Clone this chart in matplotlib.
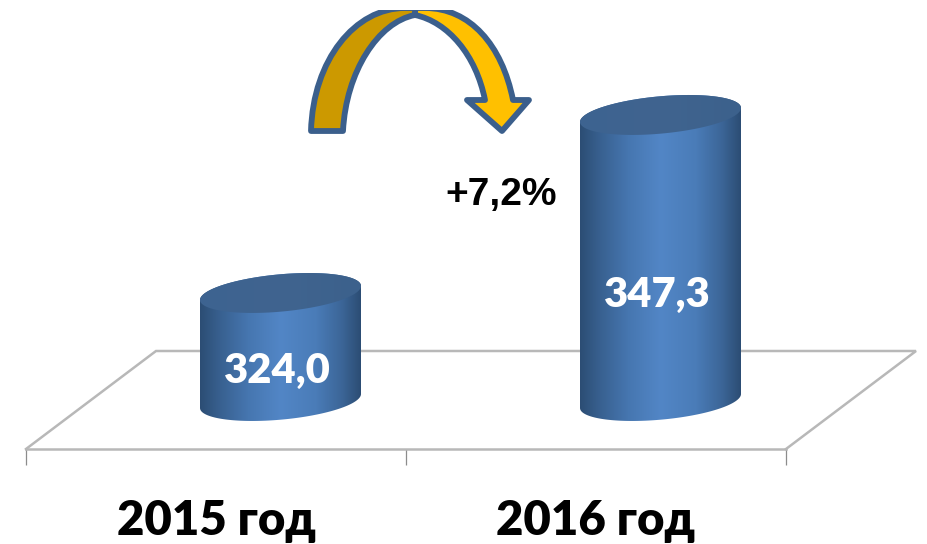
import matplotlib
matplotlib.use('Agg')
import matplotlib.pyplot as plt
from matplotlib.colors import LinearSegmentedColormap
from matplotlib.patches import PathPatch
from matplotlib.path import Path
from matplotlib.ticker import FixedLocator, NullFormatter
import numpy as np

categories = ['2015 год', '2016 год']
values = [324.0, 347.3]
value_labels = ['324,0', '347,3']
change_label = '+7,2%'

W, H = 928, 544
FONT = ['Lato', 'Open Sans', 'DejaVu Sans']

# scale of the picture: pixels per category / per value unit
X_ZERO, X_STEP = 216, 380
Y_BASE_PX, Y_STEP = 401, 7.64
BASE = 309.86
DEPTH = 64.5 / X_STEP


def y_of_px(py):
    return BASE + (Y_BASE_PX - py) / Y_STEP


fig = plt.figure(figsize=(W / 100, H / 100), dpi=100, facecolor='white')

# floor and arrow live in pixel coordinates, the arrow is cut by the top of this axes
deco = fig.add_axes([0, 0, 1, (H - 10) / H], zorder=0)
deco.set_xlim(0, W)
deco.set_ylim(H, 10)
deco.axis('off')
deco.plot([26, 156, 916, 786], [449, 351, 351, 449], color='#b8b8b8', lw=1.8, solid_joinstyle='miter')

BLUE = '#3b5f8c'
dark = Path(
    [(311, 131), (313, 60), (355, 8), (405, 8), (415, 8), (415, 15), (378, 22), (346, 72), (343, 131), (311, 131)],
    [Path.MOVETO, Path.CURVE4, Path.CURVE4, Path.CURVE4, Path.LINETO, Path.LINETO, Path.CURVE4, Path.CURVE4,
     Path.CURVE4, Path.CLOSEPOLY],
)
light = Path(
    [(415, 15), (448, 22), (476, 55), (485, 100), (467, 100), (502, 131), (529, 100), (513, 100),
     (502, 45), (470, 8), (425, 8), (415, 8), (415, 15)],
    [Path.MOVETO, Path.CURVE4, Path.CURVE4, Path.CURVE4, Path.LINETO, Path.LINETO, Path.LINETO, Path.LINETO,
     Path.CURVE4, Path.CURVE4, Path.CURVE4, Path.LINETO, Path.CLOSEPOLY],
)
deco.add_patch(PathPatch(light, fc='#ffc000', ec=BLUE, lw=4.2, joinstyle='round'))
deco.add_patch(PathPatch(dark, fc='#cc9900', ec=BLUE, lw=4.2, joinstyle='round'))
deco.text(501, 195, change_label, family='Liberation Sans', weight='bold', fontsize=28, ha='center', va='center', color='black')

ax = fig.add_axes([0, 0, 1, 1], zorder=1)
ax.patch.set_alpha(0)

body_cmap = LinearSegmentedColormap.from_list('cyl', [
    (0.0, '#2c4d74'), (0.12, '#38608f'), (0.3, '#4676b0'), (0.5, '#5286c6'),
    (0.72, '#4a7cb8'), (0.88, '#3c6698'), (1.0, '#2c4d74'),
])
top_cmap = LinearSegmentedColormap.from_list('cyltop', ['#3d6391', '#40648f', '#3c618c'])

t = np.linspace(0, 2 * np.pi, 241)
half_w = 80.5 / X_STEP
half_h = 18.7 / Y_STEP
tilt = 7.0 / Y_STEP
ramp = np.linspace(0, 1, 256).reshape(1, -1)

for i, v in enumerate(values):
    cx = i + DEPTH
    ex = cx + half_w * np.cos(t)
    ey = half_h * np.sin(t) + tilt * np.cos(t)
    lower = t <= np.pi
    upper = t >= np.pi
    # ey sin>0 points to higher values, so the front of the base is the part with sin<0
    body_x = np.r_[ex[lower], ex[upper]]
    body_y = np.r_[v + ey[lower], BASE + ey[upper]]
    body = ax.fill(body_x, body_y, color='none', lw=0)[0]
    img = ax.imshow(ramp, cmap=body_cmap, extent=[cx - half_w, cx + half_w, BASE - 4, v + 4],
                    aspect='auto', zorder=2, interpolation='bilinear')
    img.set_clip_path(body)
    top = ax.fill(ex, v + ey, color='none', lw=0)[0]
    img = ax.imshow(ramp, cmap=top_cmap, extent=[cx - half_w, cx + half_w, v - 4, v + 4],
                    aspect='auto', zorder=3, interpolation='bilinear')
    img.set_clip_path(top)

label_px = [371, 295]
for i, (txt, py) in enumerate(zip(value_labels, label_px)):
    ax.text(i + DEPTH - 3.5 / X_STEP, y_of_px(py), txt, color='white', family=FONT, weight='heavy', fontsize=30,
            ha='center', va='center', zorder=4)

ax.set_xlim(-X_ZERO / X_STEP, (W - X_ZERO) / X_STEP)
ax.set_ylim(y_of_px(H), y_of_px(0))

for name in ['top', 'left', 'right']:
    ax.spines[name].set_visible(False)
ax.spines['bottom'].set_position(('data', y_of_px(449)))
ax.spines['bottom'].set_bounds(-0.5, 1.5)
ax.spines['bottom'].set_color('#b8b8b8')
ax.spines['bottom'].set_linewidth(1.8)
ax.yaxis.set_visible(False)
ax.set_xticks(range(len(categories)), categories, family=FONT, weight='heavy', fontsize=34)
ax.tick_params(axis='x', which='major', length=0, pad=36, colors='black')
ax.xaxis.set_minor_locator(FixedLocator([-0.5, 0.5, 1.5]))
ax.xaxis.set_minor_formatter(NullFormatter())
ax.tick_params(axis='x', which='minor', length=11.5, width=0.9, color='#8c8c8c')

fig.savefig('out.png', dpi=100)
